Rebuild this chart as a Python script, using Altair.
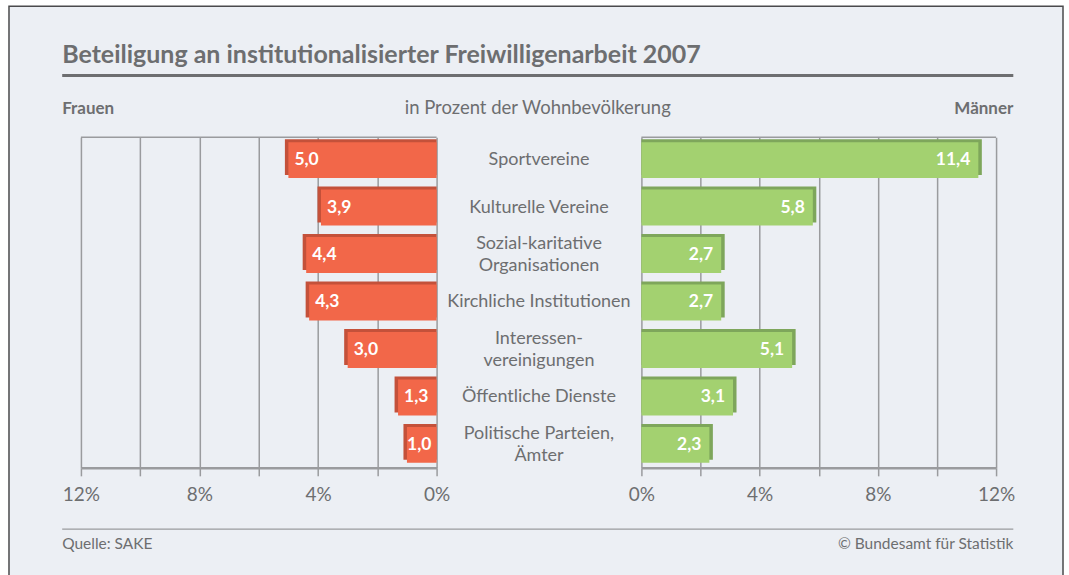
import altair as alt
import pandas as pd

# ---------------- data ----------------
categories = [
    "Sportvereine",
    "Kulturelle Vereine",
    "Sozial-karitative\nOrganisationen",
    "Kirchliche Institutionen",
    "Interessen-\nvereinigungen",
    "Öffentliche Dienste",
    "Politische Parteien,\nÄmter",
]
frauen = [5.0, 3.9, 4.4, 4.3, 3.0, 1.3, 1.0]
maenner = [11.4, 5.8, 2.7, 2.7, 5.1, 3.1, 2.3]
tick_values = [0, 2, 4, 6, 8, 10, 12]

title_text = "Beteiligung an institutionalisierter Freiwilligenarbeit 2007"
left_head = "Frauen"
mid_head = "in Prozent der Wohnbevölkerung"
right_head = "Männer"
source_text = "Quelle: SAKE"
copy_text = "© Bundesamt für Statistik"

# ---------------- style ----------------
FONT = "Lato"
TXT = "#6d6e70"
GRID = "#9a9b9e"
BG = "#eceff4"
RED = "#f26749"
RED_DARK = "#c4513a"
GREEN = "#a3d170"
GREEN_DARK = "#7ea65b"

H = 331
WL, WC, WR, WF = 356, 205, 355, 72

df = pd.DataFrame({"cat": categories, "f": frauen, "m": maenner})
df["fl"] = [f"{v:.1f}".replace(".", ",") for v in frauen]
df["ml"] = [f"{v:.1f}".replace(".", ",") for v in maenner]
one = pd.DataFrame({"k": [0]})

yenc = alt.Y("cat:N", scale=alt.Scale(domain=categories, paddingInner=0.242, paddingOuter=0.105), axis=None)


def xaxis():
    return alt.Axis(
        values=tick_values,
        labelExpr="datum.value % 4 == 0 ? datum.value + '%' : ''",
        grid=True,
        gridColor=GRID,
        gridWidth=1.5,
        domainColor=GRID,
        domainWidth=2.5,
        tickColor=GRID,
        tickWidth=1.5,
        tickSize=8,
        labelColor=TXT,
        labelFont=FONT,
        labelFontSize=19,
        labelPadding=10,
        labelFlush=False,
        title=None,
    )


# ---------------- frame / decoration panel ----------------
ox, oy = 8.75, 136.75
frame = alt.Chart(one).mark_rect(fill=BG, stroke="#4a4a4c", strokeWidth=1.5).encode(
    x=alt.value(0), x2=alt.value(1055), y=alt.value(-131), y2=alt.value(445)
)


def txt(s, x, y, align="left", size=16, weight="normal", color=TXT):
    return alt.Chart(one).mark_text(
        text=s, align=align, baseline="alphabetic", font=FONT, fontSize=size,
        fontWeight=weight, color=color
    ).encode(x=alt.value(x - ox), y=alt.value(y - oy))


def hrule(x1, x2, y, w, color):
    return alt.Chart(one).mark_rule(color=color, strokeWidth=w).encode(
        x=alt.value(x1 - ox), x2=alt.value(x2 - ox), y=alt.value(y - oy)
    )


deco = alt.layer(
    frame,
    txt(title_text, 62, 63, size=25, weight="bold"),
    hrule(62, 1014, 75, 3, TXT),
    txt(left_head, 62, 114, size=17, weight="bold"),
    txt(mid_head, 538, 114, align="center", size=18.5),
    txt(right_head, 1014, 114, align="right", size=17, weight="bold"),
    hrule(62, 1014, 529, 1.3, GRID),
    txt(source_text, 62, 549, size=15.5),
    txt(copy_text, 1014, 549, align="right", size=15.5),
).properties(width=WF, height=H)

# ---------------- left panel (Frauen) ----------------
xscale_l = alt.Scale(domain=[0, 12], reverse=True, nice=False)
xl = alt.X("f:Q", scale=xscale_l, axis=xaxis())
base_l = alt.Chart(df)
top_l = alt.Chart(one).mark_rule(color=GRID, strokeWidth=1.5).encode(
    x=alt.value(0), x2=alt.value(WL), y=alt.value(0)
)
dark_l = base_l.mark_bar(color=RED_DARK, xOffset=-3.5, yOffset=-3).encode(x=xl, x2=alt.datum(0), y=yenc)
face_l = base_l.mark_bar(color=RED).encode(x=xl, x2=alt.datum(0), y=yenc)
# label anchor: bar end, but never so close to 0 that the label would overflow
lab_l = base_l.transform_calculate(lx="max(datum.f, 1.2)").mark_text(
    align="left", baseline="middle", dx=6, color="white", font=FONT, fontWeight="bold", fontSize=17.5
).encode(
    x=alt.X("lx:Q", scale=xscale_l, axis=xaxis()),
    y=yenc, text="fl:N",
)
left = alt.layer(top_l, dark_l, face_l, lab_l).properties(width=WL, height=H)

# ---------------- center panel (categories) ----------------
is_two = "indexof(datum.cat, '\\n') >= 0"
cbase = alt.Chart(df)
c_one = cbase.transform_filter("!(" + is_two + ")").mark_text(
    align="center", baseline="middle", font=FONT, fontSize=18, color=TXT
).encode(x=alt.value(WC / 2), y=yenc, text="cat:N")
c_two = cbase.transform_filter(is_two).mark_text(
    align="center", baseline="middle", lineBreak="\n", lineHeight=22, dy=-11,
    font=FONT, fontSize=18, color=TXT
).encode(x=alt.value(WC / 2), y=yenc, text="cat:N")
center = alt.layer(c_one, c_two).properties(width=WC, height=H)

# ---------------- right panel (Männer) ----------------
xr = alt.X("m:Q", scale=alt.Scale(domain=[0, 12], nice=False), axis=xaxis())
base_r = alt.Chart(df)
top_r = alt.Chart(one).mark_rule(color=GRID, strokeWidth=1.5).encode(
    x=alt.value(0), x2=alt.value(WR), y=alt.value(0)
)
dark_r = base_r.mark_bar(color=GREEN_DARK, xOffset=3.5, yOffset=-3).encode(x=xr, x2=alt.datum(0), y=yenc)
face_r = base_r.mark_bar(color=GREEN).encode(x=xr, x2=alt.datum(0), y=yenc)
lab_r = base_r.mark_text(
    align="right", baseline="middle", dx=-8, color="white", font=FONT, fontWeight="bold", fontSize=17.5
).encode(x=xr, y=yenc, text="ml:N")
right = alt.layer(top_r, dark_r, face_r, lab_r).properties(width=WR, height=H)

chart = (
    alt.hconcat(deco, left, center, right, spacing=0, bounds="flush")
    .resolve_scale(x="independent", y="shared")
    .properties(padding={"left": 8, "top": 5, "right": 5, "bottom": 0}, background="white")
    .configure_view(strokeWidth=0)
)

chart.save("out.html", embed_options={"renderer": "svg", "actions": False})
